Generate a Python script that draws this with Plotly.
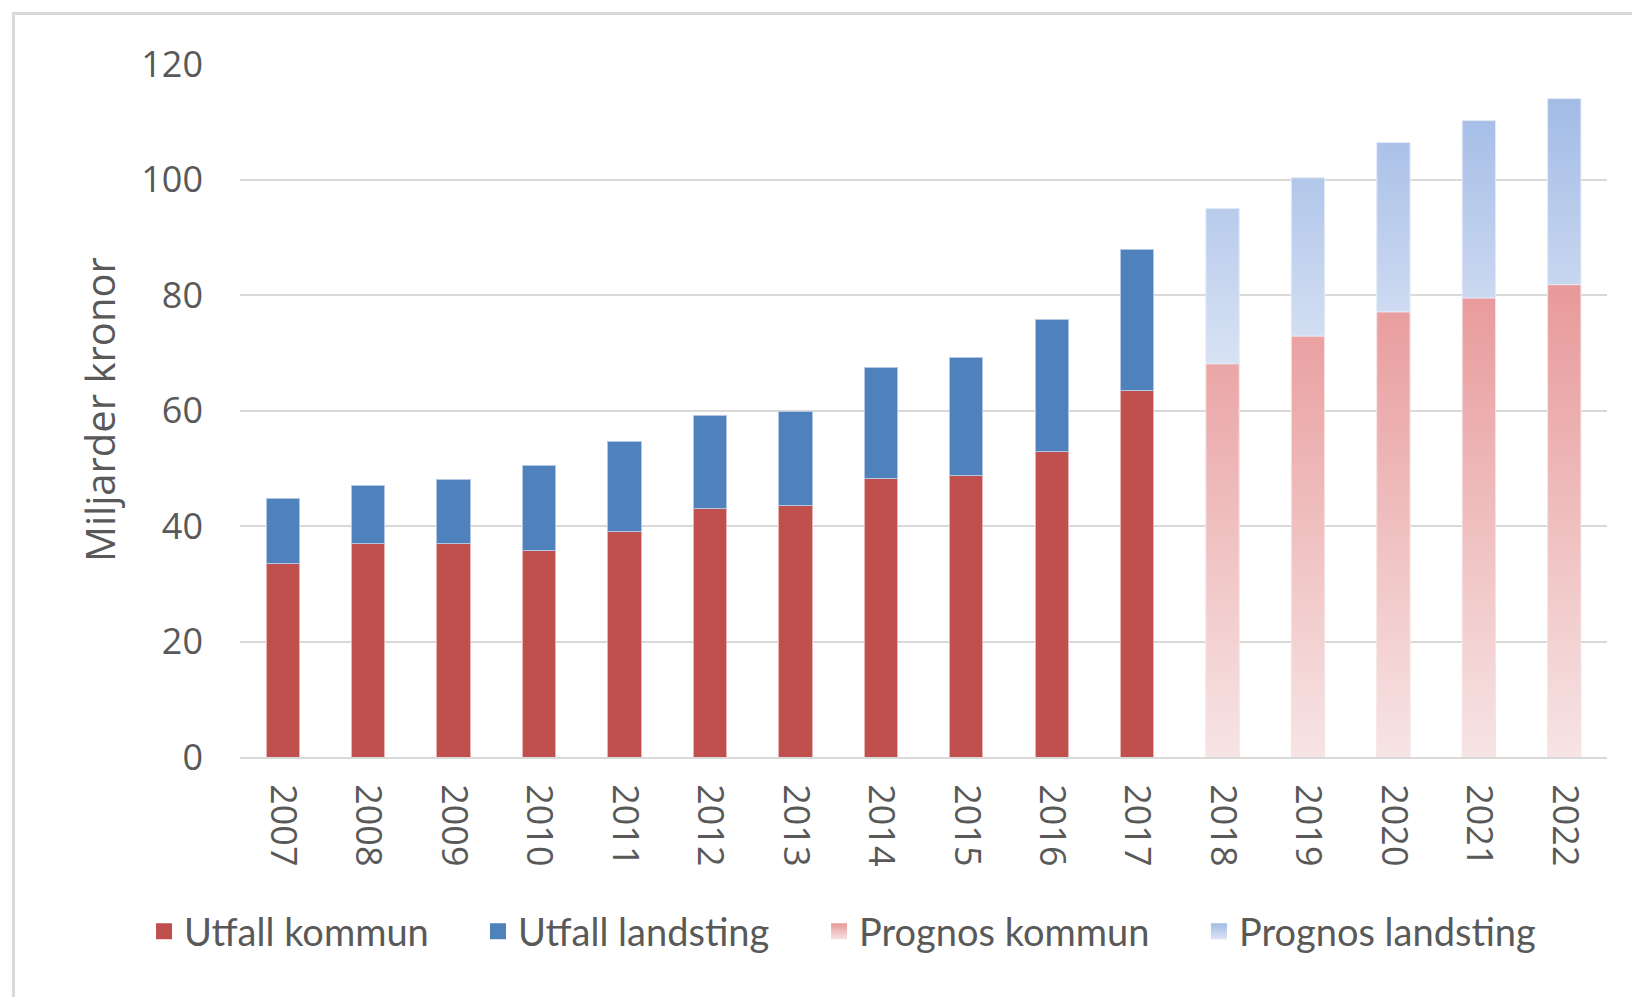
import plotly.graph_objects as go

years = list(range(2007, 2023))
actual_years = years[:11]
forecast_years = years[11:]

utfall_kommun = [33.5, 36.9, 36.9, 35.8, 39.1, 43.1, 43.6, 48.3, 48.7, 52.9, 63.5]
utfall_landsting = [11.2, 10.2, 11.2, 14.7, 15.6, 16.1, 16.3, 19.2, 20.4, 22.8, 24.3]
prognos_kommun = [68.1, 72.9, 77.1, 79.5, 81.8]
prognos_landsting = [26.9, 27.4, 29.3, 30.7, 32.2]

y_ticks = [0, 20, 40, 60, 80, 100, 120]
series_names = ["Utfall kommun", "Utfall landsting", "Prognos kommun", "Prognos landsting"]

BAR_W = 0.39
FONT = "Open Sans"
GRAY = "#595959"

C_K = "#c0504d"
C_L = "#4f81bd"


def polygon(xs, bottoms, tops, w):
    px, py = [], []
    for x, b, t in zip(xs, bottoms, tops):
        x0, x1 = x - w / 2, x + w / 2
        px += [x0, x1, x1, x0, x0, None]
        py += [b, b, t, t, b, None]
    return px, py


fig = go.Figure()
fig.add_trace(go.Bar(x=actual_years, y=utfall_kommun, name=series_names[0], width=BAR_W,
                     showlegend=False,
                     marker=dict(color=C_K, line=dict(color="#e8b4b3", width=1))))
fig.add_trace(go.Bar(x=actual_years, y=utfall_landsting, name=series_names[1], width=BAR_W,
                     showlegend=False,
                     marker=dict(color=C_L, line=dict(color="#b3c7e3", width=1))))

kx, ky = polygon(forecast_years, [0] * len(prognos_kommun), prognos_kommun, BAR_W)
fig.add_trace(go.Scatter(x=kx, y=ky, name=series_names[2], mode="lines", fill="toself",
                         showlegend=False,
                         line=dict(width=1, color="#f5e3e3"),
                         fillcolor="#eebcbc",
                         fillgradient=dict(type="vertical",
                                           colorscale=[[0, "#f7e4e4"], [1, "#e8999a"]])))
tops = [k + l for k, l in zip(prognos_kommun, prognos_landsting)]
lx, ly = polygon(forecast_years, prognos_kommun, tops, BAR_W)
fig.add_trace(go.Scatter(x=lx, y=ly, name=series_names[3], mode="lines", fill="toself",
                         showlegend=False,
                         line=dict(width=1, color="#e3eaf6"),
                         fillcolor="#bccdec",
                         fillgradient=dict(type="vertical",
                                           colorscale=[[0, "#d8e2f4"], [1, "#a2bbe6"]])))

# legend entries (one legend per entry so each can be placed like the original)
legend_specs = [
    (series_names[0], C_K, None, "legend"),
    (series_names[1], C_L, None, "legend2"),
    (series_names[2], "#e8999a", "#f7e4e4", "legend3"),
    (series_names[3], "#a2bbe6", "#dce5f5", "legend4"),
]
for name, col, gcol, lg in legend_specs:
    mk = dict(symbol="square", size=16, color=col, line=dict(width=0))
    if gcol:
        mk["gradient"] = dict(type="vertical", color=gcol)
    fig.add_trace(go.Scatter(x=[None], y=[None], mode="markers", name=name,
                             marker=mk, legend=lg, showlegend=True, hoverinfo="skip"))

leg_common = dict(orientation="h", xanchor="left", y=-0.252, yanchor="middle",
                  font=dict(family="Lato", size=38, color=GRAY), itemsizing="trace",
                  bgcolor="rgba(0,0,0,0)", borderwidth=0)
leg_x = [-0.0702, 0.1741, 0.4236, 0.7015]

fig.update_layout(
    barmode="stack",
    width=1640, height=997,
    margin=dict(l=232, r=41, t=56, b=248),
    paper_bgcolor="white", plot_bgcolor="white",
    font=dict(family=FONT, color=GRAY, size=36),
    showlegend=True,
    legend=dict(x=leg_x[0], **leg_common),
    legend2=dict(x=leg_x[1], **leg_common),
    legend3=dict(x=leg_x[2], **leg_common),
    legend4=dict(x=leg_x[3], **leg_common),
    xaxis=dict(range=[2006.5, 2022.5], tickmode="array", tickvals=years,
               ticktext=[str(y) for y in years], tickangle=90,
               showgrid=False, showline=True, linecolor="#d9d9d9", linewidth=2,
               ticks="", ticklabelstandoff=18, zeroline=False,
               tickfont=dict(family=FONT, size=36, color=GRAY)),
    yaxis=dict(range=[0, 120], tickvals=y_ticks, showgrid=True, gridcolor="#d9d9d9",
               gridwidth=1.5, zeroline=False, showline=False, ticks="",
               ticklabelstandoff=36, tickfont=dict(family=FONT, size=36, color=GRAY)),
    annotations=[dict(text="Miljarder kronor", xref="paper", yref="paper", x=-0.1032, y=0.502,
                      textangle=-90, showarrow=False, xanchor="center", yanchor="middle",
                      font=dict(family=FONT, size=40, color=GRAY))],
    shapes=[dict(type="rect", xref="paper", yref="paper", x0=-0.1657, x1=1.2, y0=-0.5, y1=1.0729,
                 line=dict(color="#d9d9d9", width=3), layer="below")],
)

fig.write_html("out.html")
